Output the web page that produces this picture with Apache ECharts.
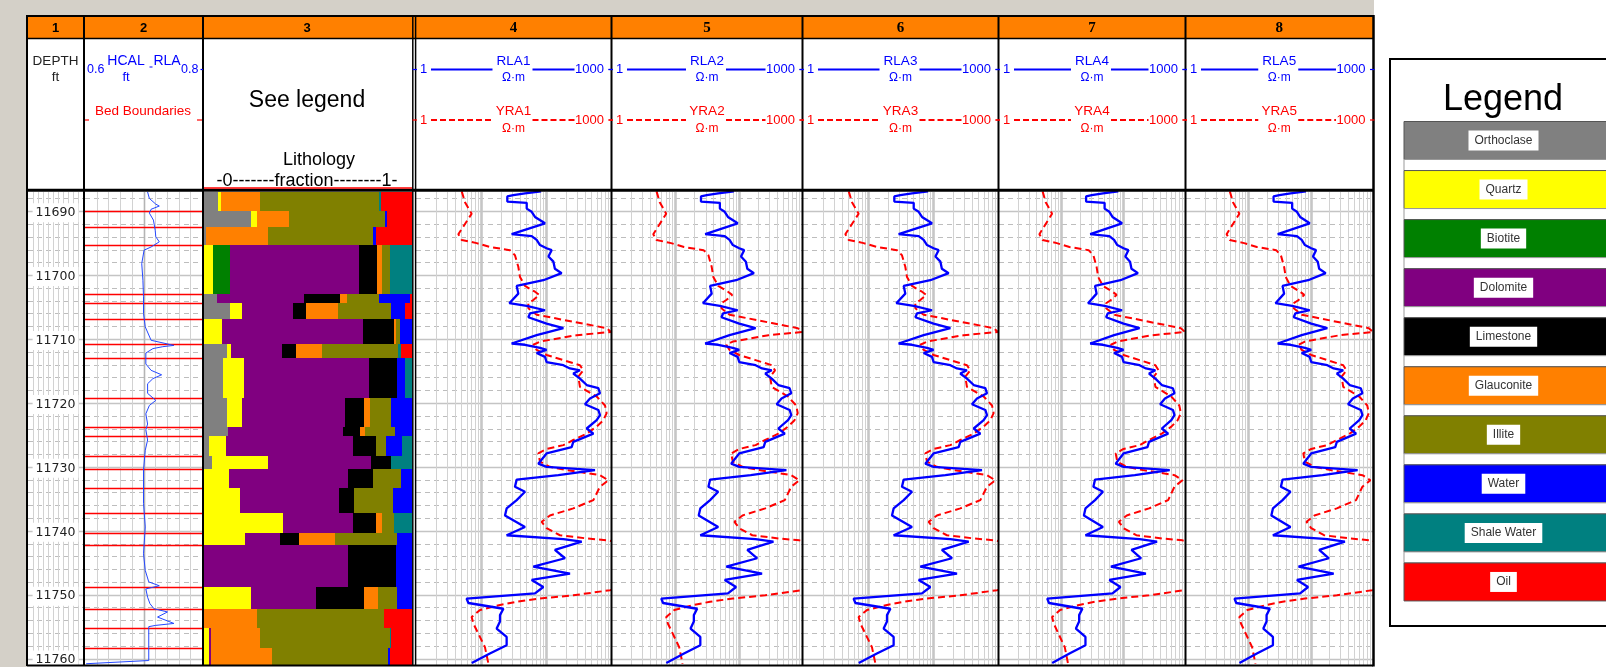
<!DOCTYPE html>
<html>
<head>
<meta charset="utf-8">
<script src="https://cdn.jsdelivr.net/npm/echarts@6/dist/echarts.min.js"></script>
<style>
html, body { margin: 0; padding: 0; background: #fff; }
#chart { width: 1606px; height: 667px; }
</style>
</head>
<body>
<div id="chart"></div>
<script>
// ---- depth window (ft) ----
const DEPTH_TOP = 11687;
const DEPTH_BASE = 11761;
const DEPTH_LABELS = [11690, 11700, 11710, 11720, 11730, 11740, 11750, 11760];

// ---- track titles ----
const TRACK_NUMBERS = ['1', '2', '3', '4', '5', '6', '7', '8'];
const RLA_NAMES = ['RLA1', 'RLA2', 'RLA3', 'RLA4', 'RLA5'];
const YRA_NAMES = ['YRA1', 'YRA2', 'YRA3', 'YRA4', 'YRA5'];

// ---- caliper (track 2) ----
const HCAL_DEPTH = [11687.0, 11688.0, 11688.9, 11689.2, 11689.7, 11690.3, 11691.4, 11693.0, 11694.0, 11694.8,
  11695.6, 11696.1, 11698.2, 11700.8, 11703.4, 11706.0, 11708.1, 11710.2, 11711.0, 11711.2,
  11711.5, 11712.2, 11713.9, 11714.9, 11715.6, 11716.2, 11717.0, 11718.5, 11719.6, 11720.4,
  11721.7, 11723.3, 11724.2, 11725.8, 11727.4, 11730.5, 11735.7, 11739.4, 11743.6, 11746.2,
  11748.0, 11748.6, 11749.1, 11750.4, 11751.4, 11752.2, 11752.7, 11753.5, 11754.5, 11754.8,
  11755.0, 11758.2, 11760.3, 11760.8];
const HCAL = [0.707, 0.710, 0.721, 0.727, 0.713, 0.710, 0.717, 0.720, 0.721, 0.727,
  0.713, 0.701, 0.697, 0.699, 0.700, 0.700, 0.703, 0.713, 0.752, 0.733,
  0.716, 0.704, 0.704, 0.713, 0.731, 0.716, 0.707, 0.707, 0.721, 0.710,
  0.704, 0.707, 0.704, 0.707, 0.703, 0.700, 0.700, 0.703, 0.700, 0.703,
  0.709, 0.727, 0.704, 0.707, 0.711, 0.718, 0.741, 0.724, 0.752, 0.721,
  0.709, 0.709, 0.709, 0.602];

// ---- bed boundaries (ft) ----
const BED_BOUNDARIES = [11689.9, 11692.4, 11695.3, 11703.0, 11704.4, 11706.9, 11710.8, 11712.9, 11719.3, 11723.7,
  11725.2, 11728.3, 11730.3, 11733.3, 11737.2, 11740.3, 11742.3, 11748.8, 11752.3, 11755.2, 11758.3];

// ---- lithology intervals and volume fractions ----
const LITH_TOP = [DEPTH_TOP].concat(BED_BOUNDARIES);
const LITH_BASE = BED_BOUNDARIES.concat([DEPTH_BASE]);
const ORTHOCLASE  = [.069, .224, .010, 0, .061, .125, 0, .109, .090, .109, .114, .024, .040, 0, 0, 0, 0, 0, 0, 0, 0, 0];
const QUARTZ      = [.011, .029, 0, .042, 0, .056, .085, .021, .104, .075, 0, .080, .269, .120, .173, .381, .197, 0, .224, 0, .024, .024];
const BIOTITE     = [0, 0, 0, .083, 0, 0, 0, 0, 0, 0, 0, 0, 0, 0, 0, 0, 0, 0, 0, 0, 0, 0];
const DOLOMITE    = [0, 0, 0, .619, .421, .245, .680, .246, .598, .493, .555, .610, .493, .570, .477, .333, .168, .693, .314, 0, .010, .008];
const LIMESTONE   = [0, 0, 0, .090, .171, .062, .149, .066, .138, .093, .080, .112, .096, .123, .070, .112, .093, .229, .232, 0, 0, 0];
const GLAUCONITE  = [.189, .155, .299, .024, .035, .157, .011, .123, 0, .027, .024, 0, 0, 0, 0, .032, .171, 0, .067, .253, .235, .293];
const ILLITE      = [.571, .461, .504, .035, .154, .253, .016, .368, 0, .101, .144, .051, 0, .136, .189, .056, .301, 0, .093, .613, .624, .560];
const WATER       = [0, .011, .016, 0, .150, .067, .059, 0, .035, .102, .083, .077, 0, .051, .091, 0, .070, .078, .070, 0, 0, .011];
const SHALE_WATER = [.010, 0, 0, .107, 0, 0, 0, .016, .035, 0, 0, .046, .102, 0, 0, .086, 0, 0, 0, 0, .005, 0];
const OIL         = [.150, .120, .171, 0, .008, .035, 0, .051, 0, 0, 0, 0, 0, 0, 0, 0, 0, 0, 0, .134, .102, .104];

const LITH_NAMES = ['Orthoclase', 'Quartz', 'Biotite', 'Dolomite', 'Limestone', 'Glauconite', 'Illite', 'Water', 'Shale Water', 'Oil'];
const LITH_COLORS = ['#808080', '#ffff00', '#008000', '#800080', '#000000', '#ff8000', '#808000', '#0000ff', '#008080', '#ff0000'];
const LITH_VALUES = [ORTHOCLASE, QUARTZ, BIOTITE, DOLOMITE, LIMESTONE, GLAUCONITE, ILLITE, WATER, SHALE_WATER, OIL];

// ---- resistivity (ohm.m) ----
const RLA_DEPTH = [11686.9, 11687.2, 11687.5, 11687.7, 11688.5, 11688.7, 11689.6, 11690.1, 11690.9, 11691.9,
  11693.0, 11693.6, 11693.9, 11694.5, 11695.3, 11695.8, 11696.1, 11697.1, 11697.9, 11699.0,
  11699.7, 11700.8, 11701.7, 11702.9, 11704.4, 11704.8, 11705.5, 11706.0, 11706.6, 11707.6,
  11708.3, 11709.4, 11710.7, 11710.9, 11711.4, 11711.7, 11712.2, 11712.8, 11713.6, 11714.1,
  11714.6, 11714.9, 11715.4, 11716.2, 11717.2, 11717.7, 11718.5, 11719.3, 11720.2, 11721.1,
  11721.9, 11722.7, 11724.0, 11724.8, 11726.1, 11726.9, 11727.9, 11729.5, 11730.0, 11730.5,
  11731.3, 11732.0, 11733.1, 11733.9, 11735.2, 11736.5, 11737.6, 11739.4, 11740.7, 11741.3,
  11741.7, 11743.0, 11744.3, 11745.6, 11746.7, 11747.7, 11748.8, 11749.8, 11750.6, 11751.3,
  11752.2, 11753.2, 11754.2, 11755.3, 11756.6, 11757.9, 11759.2, 11760.7];
const RLA = [84, 47.5, 31.4, 25.4, 25.4, 50.5, 50.5, 60.2, 67.7, 96.5,
  44.8, 29.6, 60.2, 71.8, 80.9, 102, 122, 109, 130, 137,
  174, 91, 35.4, 37.5, 27.3, 50.5, 96.5, 56.7, 53.5, 102,
  185, 71.8, 29.6, 47.5, 80.9, 102, 71.8, 96.5, 102, 185,
  234, 333, 263, 333, 423, 638, 677, 475, 398, 638,
  677, 602, 423, 535, 263, 248, 102, 76.2, 102, 567,
  155, 35.4, 33.3, 47.5, 35.4, 24.8, 23.4, 47.5, 24.8, 185,
  354, 137, 196, 63.8, 234, 60.2, 91, 67.7, 6.0, 6.4,
  22.1, 19.6, 19.6, 17.4, 24.8, 24.8, 13.7, 7.2];
const YRA_DEPTH = [11686.9, 11688.6, 11690.4, 11692.0, 11693.6, 11694.5, 11695.0, 11695.6, 11696.1, 11696.9,
  11698.7, 11700.3, 11701.7, 11702.6, 11703.1, 11703.9, 11704.4, 11705.2, 11706.2, 11707.5,
  11708.3, 11708.9, 11709.4, 11710.4, 11710.9, 11711.7, 11712.5, 11713.3, 11714.1, 11714.9,
  11715.9, 11717.5, 11719.0, 11720.4, 11721.6, 11722.7, 11723.7, 11724.8, 11725.8, 11726.6,
  11727.2, 11727.9, 11729.2, 11730.0, 11730.5, 11731.3, 11732.1, 11733.1, 11735.2, 11736.5,
  11737.6, 11738.6, 11739.6, 11740.7, 11741.2, 11741.5, 11742.0, 11745.0, 11749.0, 11749.3,
  11750.1, 11750.6, 11751.1, 11751.6, 11752.4, 11753.5, 11754.5, 11756.1, 11758.2, 11760.8];
const YRA = [5.05, 5.67, 7.18, 5.67, 4.48, 5.05, 8.57, 13.7, 27.9, 33.3,
  37.5, 39.8, 47.5, 67.7, 78.9, 63.8, 53.5, 53.5, 71.8, 333,
  857, 1000, 296, 80.9, 63.8, 71.8, 102, 185, 333, 375,
  314, 333, 602, 809, 857, 762, 602, 423, 263, 185,
  102, 76.2, 80.9, 115, 208, 677, 910, 677, 535, 263,
  115, 85.8, 102, 164, 423, 910, 1400, 1800, 1400, 966,
  263, 80.9, 35.4, 19.6, 9.65, 7.18, 7.62, 9.1, 11.5, 13.0];

// ---- layout ----
const TOP = 192, BOTTOM = 665;
const BORDERS = [27, 84, 203, 415.5, 611.5, 802.5, 998.5, 1185.5, 1373];
const TRACKS = [
  { l: 28, r: 83 }, { l: 85, r: 202 }, { l: 204, r: 412 },
  { l: 416, r: 611 }, { l: 612, r: 802 }, { l: 803, r: 998 }, { l: 999, r: 1185 }, { l: 1186, r: 1373 }
];
const SANS = '"Liberation Sans", Arial, sans-serif';
const SERIF = '"Liberation Serif", "Times New Roman", serif';
const BLUE = '#0000ff', RED = '#ff0000';

// grid-line styles by kind
const GRID_STYLE = [
  { stroke: '#bdbdbd', lineWidth: 1, lineDash: [5, 4] },   // 0: 2 ft dashed
  { stroke: '#c4c4c4', lineWidth: 1.6 },                   // 1: 10 ft solid
  { stroke: '#d2d2d2', lineWidth: 1 },                     // 2: minor vertical
  { stroke: '#c6c6c6', lineWidth: 2.6 },                   // 3: decade vertical
  { stroke: '#b4b4b4', lineWidth: 1.6 }                    // 4: mid vertical
];

function horizontalLines(xv) {
  const out = [];
  for (let d = 11688; d <= 11760; d += 2) out.push([xv, d, d % 10 === 0 ? 1 : 0]);
  return out;
}
function logVerticals() {
  const out = [];
  [1, 10, 100].forEach(dec => {
    if (dec > 1) out.push([dec, DEPTH_TOP, 3]);
    for (let m = 2; m <= 9; m++) out.push([m * dec, DEPTH_TOP, 2]);
  });
  return out;
}
function gridSeries(k, specs) {
  return {
    type: 'custom', xAxisIndex: k, yAxisIndex: k, z: 1, silent: true,
    data: specs,
    renderItem: (params, api) => {
      const cs = params.coordSys;
      const kind = api.value(2);
      const p = api.coord([api.value(0), api.value(1)]);
      if (kind < 2) {
        const y = Math.round(p[1]) + 0.5;
        return { type: 'line', shape: { x1: cs.x, y1: y, x2: cs.x + cs.width, y2: y }, style: GRID_STYLE[kind] };
      }
      const x = Math.round(p[0]) + 0.5;
      return { type: 'line', shape: { x1: x, y1: cs.y, x2: x, y2: cs.y + cs.height }, style: GRID_STYLE[kind] };
    }
  };
}

// ---- axes ----
const grids = TRACKS.map(t => ({ left: t.l, top: TOP, width: t.r - t.l, height: BOTTOM - TOP, show: false }));
const hidden = { axisLine: { show: false }, axisTick: { show: false }, axisLabel: { show: false }, splitLine: { show: false } };
const xAxes = TRACKS.map((t, i) => {
  if (i === 1) return Object.assign({ type: 'value', gridIndex: i, min: 0.6, max: 0.8 }, hidden);
  if (i >= 3) return Object.assign({ type: 'log', logBase: 10, gridIndex: i, min: 1, max: 1000 }, hidden);
  return Object.assign({ type: 'value', gridIndex: i, min: 0, max: 1 }, hidden);
});
const yAxes = TRACKS.map((t, i) => Object.assign({ type: 'value', gridIndex: i, min: DEPTH_TOP, max: DEPTH_BASE, inverse: true }, hidden));

// ---- series ----
const series = [];

// depth track grid + labels
const depthVerticals = [];
for (let i = 1; i <= 10; i++) depthVerticals.push([i / 11, DEPTH_TOP, 2]);
series.push(gridSeries(0, horizontalLines(0).concat(depthVerticals)));
series.push({
  type: 'custom', xAxisIndex: 0, yAxisIndex: 0, z: 4, silent: true,
  data: DEPTH_LABELS.map(d => [0.5, d]),
  renderItem: (params, api) => {
    const p = api.coord([api.value(0), api.value(1)]);
    return {
      type: 'text', x: p[0], y: p[1] + 1.5,
      style: {
        text: String(api.value(1)), fill: '#222', font: '12.5px "DejaVu Sans", sans-serif',
        textAlign: 'center', textVerticalAlign: 'middle', align: 'center', verticalAlign: 'middle',
        backgroundColor: '#fff', padding: [3, 3, 3, 3]
      }
    };
  }
});

// caliper track
const hcalVerticals = [];
for (let i = 1; i <= 9; i++) hcalVerticals.push([0.6 + i * 0.02, DEPTH_TOP, i === 5 ? 4 : 2]);
series.push(gridSeries(1, horizontalLines(0.6).concat(hcalVerticals)));
series.push({
  type: 'custom', xAxisIndex: 1, yAxisIndex: 1, z: 2, silent: true,
  data: BED_BOUNDARIES.map(d => [0.6, d]),
  renderItem: (params, api) => {
    const cs = params.coordSys;
    const y = Math.round(api.coord([api.value(0), api.value(1)])[1]) + 0.5;
    return { type: 'line', shape: { x1: cs.x - 1, y1: y, x2: cs.x + cs.width + 1, y2: y }, style: { stroke: RED, lineWidth: 1.5 } };
  }
});
series.push({
  name: 'HCAL', type: 'line', xAxisIndex: 1, yAxisIndex: 1, z: 3, silent: true,
  symbol: 'none', clip: true,
  lineStyle: { color: '#2448ff', width: 1 },
  data: HCAL_DEPTH.map((d, i) => [HCAL[i], d])
});

// lithology track
series.push({
  type: 'custom', xAxisIndex: 2, yAxisIndex: 2, z: 2, silent: true,
  data: LITH_TOP.map((t, i) => [0, t, LITH_BASE[i]]),
  renderItem: (params, api) => {
    const i = params.dataIndex;
    const top = api.value(1), base = api.value(2);
    const children = [];
    let cum = 0;
    LITH_VALUES.forEach((arr, c) => {
      const f = arr[i];
      if (f > 0) {
        const p1 = api.coord([cum, top]);
        const p2 = api.coord([Math.min(1, cum + f), base]);
        const x1 = Math.round(p1[0]), x2 = Math.round(p2[0]);
        const y1 = Math.round(p1[1]), y2 = Math.round(p2[1]);
        children.push({ type: 'rect', shape: { x: x1, y: y1, width: x2 - x1, height: y2 - y1 }, style: { fill: LITH_COLORS[c] } });
      }
      cum += f;
    });
    return { type: 'group', children };
  }
});

// resistivity tracks
for (let k = 0; k < 5; k++) {
  const gi = 3 + k;
  series.push(gridSeries(gi, horizontalLines(1).concat(logVerticals())));
  series.push({
    name: YRA_NAMES[k], type: 'line', xAxisIndex: gi, yAxisIndex: gi, z: 3, silent: true,
    symbol: 'none', clip: true,
    lineStyle: { color: RED, width: 2, type: [7, 4] },
    data: YRA_DEPTH.map((d, i) => [YRA[i], d])
  });
  series.push({
    name: RLA_NAMES[k], type: 'line', xAxisIndex: gi, yAxisIndex: gi, z: 4, silent: true,
    symbol: 'none', clip: true,
    lineStyle: { color: BLUE, width: 2.3 },
    data: RLA_DEPTH.map((d, i) => [RLA[i], d])
  });
}

// ---- frame, headers and legend ----
const G = [];
function gLine(x1, y1, x2, y2, stroke, lw, dash) {
  G.push({ type: 'line', z: 100, silent: true, shape: { x1, y1, x2, y2 }, style: { stroke, lineWidth: lw, lineDash: dash || null } });
}
function gRect(x, y, w, h, fill, stroke, lw, z) {
  G.push({ type: 'rect', z: z === undefined ? 100 : z, silent: true, shape: { x, y, width: w, height: h }, style: { fill, stroke: stroke || null, lineWidth: lw || 0 } });
}
function gText(x, y, t, font, fill, align, extra) {
  const a = align || 'center';
  G.push({ type: 'text', z: 102, silent: true, x, y, style: Object.assign({ text: t, font, fill, textAlign: a, align: a, textVerticalAlign: 'middle', verticalAlign: 'middle' }, extra || {}) });
}

// window background
gRect(0, 0, 27, 667, '#d4d0c8', null, 0, 99);
gRect(0, 0, 1374, 15, '#d4d0c8', null, 0, 99);

// orange title strip
gRect(27, 16.5, 1346, 21.5, '#ff8000', null, 0, 99);
const centers = [];
for (let i = 0; i < 8; i++) centers.push((BORDERS[i] + BORDERS[i + 1]) / 2);
TRACK_NUMBERS.forEach((n, i) => {
  gText(i === 2 ? 307 : centers[i], 28, n, (i < 3 ? 'bold 13px ' + SANS : 'bold 15px ' + SERIF), '#000');
});

// frame lines
gLine(26, 16, 1374, 16, '#000', 2);
gLine(27, 38.5, 1373, 38.5, '#000', 1.6);
gLine(27, 190.2, 1373, 190.2, '#000', 3);
gLine(27, 665.5, 1373, 665.5, '#000', 2);
[27, 84, 203, 611.5, 802.5, 998.5, 1185.5].forEach(x => gLine(x, 15, x, 666, '#000', 2));
gLine(1373.5, 15, 1373.5, 666.5, '#000', 2.5);
gLine(412.8, 15, 412.8, 666, '#000', 1.5);
gLine(415.6, 15, 415.6, 666, '#000', 1.5);

// track 1 header
gText(55.5, 61, 'DEPTH', '13.5px ' + SANS, '#222');
gText(55.5, 77, 'ft', '13.5px ' + SANS, '#222');

// track 2 header
gText(87, 69.5, '0.6', '12.5px ' + SANS, BLUE, 'left');
gText(126, 61, 'HCAL', '14px ' + SANS, BLUE);
gText(126, 77, 'ft', '13px ' + SANS, BLUE);
gLine(149.5, 67, 152.5, 67, BLUE, 1);
gText(167, 61, 'RLA', '14px ' + SANS, BLUE);
gText(198.5, 69.5, '0.8', '12.5px ' + SANS, BLUE, 'right');
gLine(200.5, 69.5, 203, 69.5, BLUE, 1.2);
gText(143, 111.5, 'Bed Boundaries', '13.5px ' + SANS, RED);
gLine(85, 120, 89, 120, RED, 1.2);
gLine(197, 120, 202, 120, RED, 1.2);

// track 3 header
gText(307, 101, 'See legend', '23px ' + SANS, '#000');
gText(319, 160, 'Lithology', '18px ' + SANS, '#000');
gText(307, 181.5, '-0-------fraction--------1-', '18px ' + SANS, '#000');
gLine(204, 188, 412, 188, RED, 1.5);

// resistivity headers
for (let k = 0; k < 5; k++) {
  const l = BORDERS[3 + k], r = BORDERS[4 + k], c = (l + r) / 2;
  [[69.5, 61, 77.5, RLA_NAMES[k], BLUE, null], [120, 111.7, 128.3, YRA_NAMES[k], RED, [6, 3]]].forEach(row => {
    const [y, yName, yUnit, name, col, dash] = row;
    gLine(l - 3, y, l + 1.5, y, col, 1.2);
    gText(l + 4.5, y, '1', '13px ' + SANS, col, 'left');
    gLine(l + 15.5, y, c - 21, y, col, 2, dash);
    gText(c, yName, name, '13.5px ' + SANS, col);
    gText(c, yUnit, 'Ω·m', '12px ' + SANS, col);
    gLine(c + 19, y, r - 37, y, col, 2, dash);
    gText(r - 7.5, y, '1000', '13px ' + SANS, col, 'right');
    gLine(r - 3, y, r + 1.5, y, col, 1.2);
  });
}

// legend panel
gRect(1390, 59, 240, 567, '#fff', '#000', 2, 98);
gText(1503, 100.5, 'Legend', '36px ' + SANS, '#000');
LITH_NAMES.forEach((name, i) => {
  const y = 121.5 + 49.05 * i;
  gRect(1404, y, 220, 38, LITH_COLORS[i], '#555', 1);
  if (i < LITH_NAMES.length - 1) gRect(1404, y + 38, 220, 11, '#fff', '#999', 1);
  gText(1503.5, y + 19, name, '12px ' + SANS, '#333', 'center', { backgroundColor: '#fff', padding: [4, 6, 4, 6] });
});

const option = {
  backgroundColor: '#fff',
  animation: false,
  grid: grids,
  xAxis: xAxes,
  yAxis: yAxes,
  series,
  graphic: { elements: G }
};

const chart = echarts.init(document.getElementById('chart'), null, { renderer: 'canvas' });
chart.setOption(option);
</script>
</body>
</html>
